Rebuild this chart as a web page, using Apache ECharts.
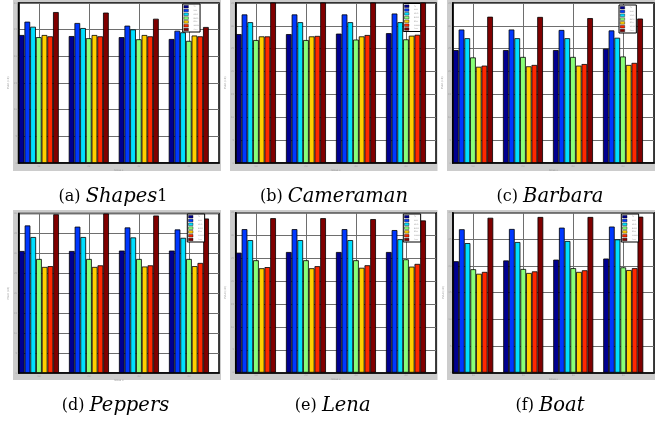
<!DOCTYPE html>
<html>
<head>
<meta charset="utf-8">
<script src="https://cdn.jsdelivr.net/npm/echarts@6/dist/echarts.min.js"></script>
<style>
  html, body { margin: 0; padding: 0; background: #fff; }
  #chart { width: 672px; height: 421px; }
</style>
</head>
<body>
<div id="chart"></div>
<script>
// Group positions on the x axis and their tick labels
const groups = [1, 2, 3, 4];
const groupLabels = ['10', '20', '30', '40'];

// Denoising methods (one bar per method in every group)
const methods = ['TV', 'NLM', 'KSVD', 'BM3D', 'EPLL', 'WNNM', 'Ours'];

// PSNR (dB) per method, across the four groups
const shapes1 = [
  [24.0, 23.8, 23.6, 23.25],
  [26.5, 26.25, 25.75, 24.8],
  [25.55, 25.3, 25.05, 24.5],
  [23.6, 23.4, 23.2, 22.9],
  [24.0, 24.0, 24.0, 23.9],
  [23.75, 23.75, 23.75, 23.75],
  [28.3, 28.2, 27.05, 25.5]
];
const cameraman = [
  [28.2, 28.2, 28.3, 28.4],
  [32.5, 32.5, 32.5, 32.7],
  [30.8, 30.8, 30.8, 30.8],
  [26.9, 26.9, 27.0, 27.05],
  [27.7, 27.7, 27.7, 27.85],
  [27.7, 27.8, 28.0, 28.05],
  [35.4, 35.4, 35.4, 35.4]
];
const barbara = [
  [24.7, 24.7, 24.7, 25.0],
  [29.2, 29.2, 29.1, 29.0],
  [27.3, 27.3, 27.3, 27.4],
  [23.1, 23.2, 23.2, 23.3],
  [21.05, 21.15, 21.3, 21.45],
  [21.3, 21.45, 21.65, 21.9],
  [32.0, 31.95, 31.7, 31.6]
];
const peppers = [
  [30.6, 30.6, 30.7, 30.7],
  [37.0, 36.7, 36.5, 36.0],
  [34.1, 34.1, 34.0, 33.9],
  [28.6, 28.6, 28.6, 28.6],
  [26.6, 26.6, 26.7, 26.8],
  [26.8, 27.0, 27.0, 27.6],
  [39.8, 40.0, 39.5, 38.75]
];
const lena = [
  [26.25, 26.4, 26.4, 26.4],
  [31.4, 31.4, 31.4, 31.2],
  [29.0, 29.0, 29.0, 29.2],
  [24.6, 24.6, 24.6, 24.8],
  [22.85, 22.85, 22.95, 23.2],
  [23.1, 23.3, 23.5, 23.8],
  [33.8, 33.8, 33.6, 33.3]
];
const boat = [
  [20.9, 21.05, 21.2, 21.4],
  [26.9, 26.95, 27.2, 27.4],
  [24.3, 24.5, 24.7, 25.0],
  [19.4, 19.45, 19.6, 19.75],
  [18.55, 18.7, 18.9, 19.25],
  [18.9, 19.0, 19.2, 19.6],
  [29.05, 29.2, 29.2, 29.25]
];

// Y axis upper limits (ticks every 5 dB)
const yMax = [30, 35, 35, 40, 35, 30];

// Caption letters and image names
const letters = ['(a)', '(b)', '(c)', '(d)', '(e)', '(f)'];
const imageNames = ['Shapes', 'Cameraman', 'Barbara', 'Peppers', 'Lena', 'Boat'];
const nameSuffix = ['1', '', '', '', '', ''];

const datasets = [shapes1, cameraman, barbara, peppers, lena, boat];

// jet-style colours, one per method
const colors = ['#000090', '#0038ff', '#00dfff', '#88ff78', '#ffcf00', '#ff2800', '#800000'];

// Panel layout: figure box (gray), plot area, legend and caption placement
const layout = [
  { box: [13, 0, 208, 171],  plot: [18.5, 3, 200.5, 160],    legend: [182.7, 4],   cap: [113, 196.5] },
  { box: [230, 0, 207.5, 171], plot: [235.7, 3, 200.3, 160], legend: [403.3, 3.5], cap: [334, 196.5] },
  { box: [447, 0, 208, 171], plot: [452.7, 3, 201.3, 160],   legend: [619, 5],     cap: [550, 196.5] },
  { box: [13, 210, 208, 170], plot: [18.7, 213.5, 200.3, 159.5], legend: [187.3, 214], cap: [115.5, 405.5] },
  { box: [230, 210, 207.5, 170], plot: [235.7, 212.7, 200.3, 160], legend: [403.3, 214], cap: [332.7, 405.5] },
  { box: [447, 210, 208, 170], plot: [453, 212.7, 201, 160], legend: [621.3, 214], cap: [550, 405.5] }
];

const tinyText = { fontSize: 2.5, color: '#9a9a9a', fontFamily: 'DejaVu Sans' };
const gridLine = { lineStyle: { color: '#6e6e6e', width: 1 } };

const grids = [], xAxes = [], yAxes = [], legends = [], series = [], graphics = [];

layout.forEach((p, i) => {
  grids.push({
    left: p.plot[0], top: p.plot[1], width: p.plot[2], height: p.plot[3],
    show: true, backgroundColor: '#fff', borderColor: '#000', borderWidth: 1.5,
    containLabel: false
  });
  // split lines and labels sit on the group centres only
  xAxes.push({
    type: 'value', gridIndex: i, min: 0.595, max: 0.595 + p.plot[2] / 50,
    axisLine: { show: true, lineStyle: { color: '#000', width: 1.5 } },
    axisTick: { show: false, customValues: groups },
    axisLabel: { show: true, customValues: groups, margin: 1.5,
      formatter: v => groupLabels[Math.round(v) - 1], ...tinyText },
    splitLine: { show: true, ...gridLine },
    name: 'Noise σ', nameLocation: 'middle', nameGap: 4.5, nameTextStyle: tinyText
  });
  yAxes.push({
    type: 'value', gridIndex: i, min: 0, max: yMax[i], interval: 5,
    axisLine: { show: true, lineStyle: { color: '#000', width: 1.5 } },
    axisTick: { show: false },
    axisLabel: { margin: 1.5, ...tinyText },
    splitLine: { show: true, ...gridLine },
    name: 'PSNR (dB)', nameLocation: 'middle', nameGap: 4, nameRotate: 90, nameTextStyle: tinyText
  });
  legends.push({
    orient: 'vertical', left: p.legend[0], top: p.legend[1],
    data: methods, selectedMode: false,
    itemWidth: 4.5, itemHeight: 2.6, itemGap: 0.8, icon: 'rect',
    padding: [1.2, 1, 1, 1],
    backgroundColor: '#fff', borderColor: '#000', borderWidth: 1,
    itemStyle: { borderWidth: 0.4, borderColor: '#000' },
    textStyle: { fontSize: 1.7, lineHeight: 2.6, color: '#a0a0a0', fontFamily: 'DejaVu Sans' }
  });
  datasets[i].forEach((vals, k) => {
    series.push({
      type: 'bar', name: methods[k], xAxisIndex: i, yAxisIndex: i,
      data: groups.map((g, j) => [g, vals[j]]),
      itemStyle: { color: colors[k], borderColor: '#000', borderWidth: 0.8 },
      barGap: '0%', barCategoryGap: '20%', clip: true,
      emphasis: { disabled: true }
    });
  });
  graphics.push({
    type: 'rect', z: -5, silent: true,
    shape: { x: p.box[0], y: p.box[1], width: p.box[2], height: p.box[3] },
    style: { fill: '#cccccc' }
  });
  graphics.push({
    type: 'text', x: p.cap[0], y: p.cap[1], silent: true,
    style: {
      text: letters[i] + ' {i|' + imageNames[i] + '}' + nameSuffix[i],
      fontSize: 16, fontFamily: 'DejaVu Serif', fill: '#000',
      align: 'center', verticalAlign: 'middle',
      textAlign: 'center', textVerticalAlign: 'middle',
      rich: { i: { fontStyle: 'italic', fontSize: 19.5, fontFamily: 'DejaVu Serif' } }
    }
  });
});

const chart = echarts.init(document.getElementById('chart'), null, { renderer: 'canvas' });
chart.setOption({
  animation: false,
  backgroundColor: '#fff',
  grid: grids,
  xAxis: xAxes,
  yAxis: yAxes,
  legend: legends,
  series: series,
  graphic: { elements: graphics }
});
</script>
</body>
</html>
